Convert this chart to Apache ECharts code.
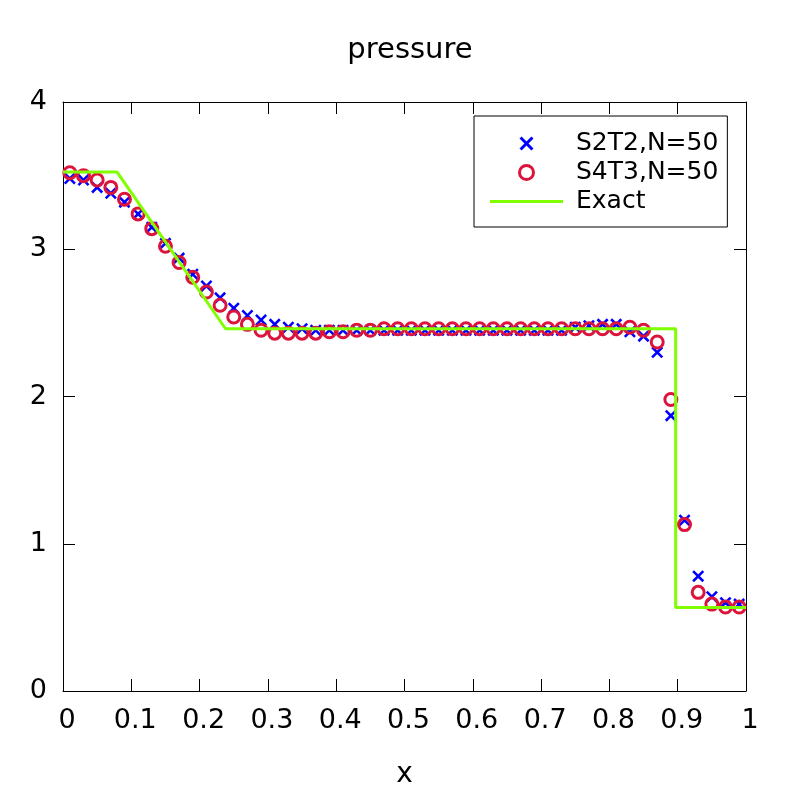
<!DOCTYPE html>
<html>
<head>
<meta charset="utf-8">
<script src="https://cdn.jsdelivr.net/npm/echarts@6/dist/echarts.min.js"></script>
<style>
  html, body { margin: 0; padding: 0; background: #fff; }
  #main { width: 800px; height: 800px; }
</style>
</head>
<body>
<div id="main"></div>
<script>
// cell centres for N=50
let xs = [0.01, 0.03, 0.05, 0.07, 0.09, 0.11, 0.13, 0.15, 0.17, 0.19,
          0.21, 0.23, 0.25, 0.27, 0.29, 0.31, 0.33, 0.35, 0.37, 0.39,
          0.41, 0.43, 0.45, 0.47, 0.49, 0.51, 0.53, 0.55, 0.57, 0.59,
          0.61, 0.63, 0.65, 0.67, 0.69, 0.71, 0.73, 0.75, 0.77, 0.79,
          0.81, 0.83, 0.85, 0.87, 0.89, 0.91, 0.93, 0.95, 0.97, 0.99]

let s2t2 = [3.48, 3.47, 3.42, 3.38, 3.32, 3.24, 3.15, 3.04, 2.94, 2.83,
            2.75, 2.67, 2.60, 2.55, 2.52, 2.49, 2.47, 2.46, 2.45, 2.45,
            2.45, 2.45, 2.45, 2.45, 2.45, 2.45, 2.45, 2.45, 2.45, 2.45,
            2.45, 2.45, 2.45, 2.45, 2.45, 2.45, 2.45, 2.47, 2.48, 2.49,
            2.49, 2.44, 2.41, 2.30, 1.87, 1.16, 0.78, 0.64, 0.60, 0.59]

let s4t3 = [3.52, 3.50, 3.47, 3.42, 3.34, 3.24, 3.14, 3.02, 2.91, 2.81,
            2.71, 2.62, 2.54, 2.49, 2.45, 2.43, 2.43, 2.43, 2.43, 2.44,
            2.44, 2.45, 2.45, 2.46, 2.46, 2.46, 2.46, 2.46, 2.46, 2.46,
            2.46, 2.46, 2.46, 2.46, 2.46, 2.46, 2.46, 2.46, 2.46, 2.46,
            2.46, 2.47, 2.45, 2.37, 1.98, 1.13, 0.67, 0.59, 0.57, 0.57]

let exactX = [0, 0.079, 0.238, 0.897, 0.897, 1]
let exactY = [3.525, 3.525, 2.46, 2.46, 0.567, 0.567]

let xTicks = ['0', '0.1', '0.2', '0.3', '0.4', '0.5', '0.6', '0.7', '0.8', '0.9', '1']

const FONT = 'DejaVu Sans'
const BLUE = '#0000ff'
const RED = '#dc143c'
const GREEN = '#80ff00'
const CROSS = 'path://M0,1.5L1.5,0L10,8.5L8.5,10Z M8.5,0L10,1.5L1.5,10L0,8.5Z'
const BAR = 'path://M0,0L73,0L73,3L0,3Z'

function pairs(a, b) {
  return a.map((v, i) => [v, b[i]])
}

let baseAxis = {
  axisLine: { show: true, onZero: false, lineStyle: { color: '#000', width: 1 } },
  axisTick: { show: true, inside: true, length: 12, lineStyle: { color: '#000', width: 1 } },
  splitLine: { show: false }
}

let options = {
  animation: false,
  backgroundColor: '#fff',
  title: {
    text: 'pressure',
    left: 405,
    textAlign: 'center',
    top: 31,
    textStyle: { fontFamily: FONT, fontSize: 29, fontWeight: 'normal', color: '#000' }
  },
  grid: { left: 63, right: 54, top: 102, bottom: 109 },
  legend: {
    orient: 'vertical',
    left: 474,
    top: 116,
    padding: [15, 9, 13, 16],
    borderColor: '#000',
    borderWidth: 1,
    itemWidth: 73,
    itemHeight: 14,
    itemGap: 4,
    selectedMode: false,
    textStyle: { fontFamily: FONT, fontSize: 25, color: '#000', padding: [0, 0, 0, 8] },
    data: [
      { name: 'S2T2,N=50', itemStyle: { color: BLUE, borderWidth: 0, opacity: 1 } },
      { name: 'S4T3,N=50', itemStyle: { color: 'rgba(0,0,0,0)', borderColor: RED, borderWidth: 3, opacity: 1 } },
      { name: 'Exact', icon: BAR, itemStyle: { color: GREEN, borderWidth: 0 } }
    ]
  },
  xAxis: [
    Object.assign({}, baseAxis, {
      type: 'value', min: 0, max: 1, interval: 0.1, position: 'bottom',
      name: 'x', nameLocation: 'middle', nameGap: 70,
      nameTextStyle: { fontFamily: FONT, fontSize: 28, color: '#000' },
      axisLabel: {
        fontFamily: FONT, fontSize: 27, color: '#000', margin: 16,
        padding: [0, 0, 0, 8],
        formatter: (v) => xTicks[Math.round(v * 10)]
      }
    }),
    Object.assign({}, baseAxis, {
      type: 'value', min: 0, max: 1, interval: 0.1, position: 'top',
      axisLabel: { show: false }
    })
  ],
  yAxis: [
    Object.assign({}, baseAxis, {
      type: 'value', min: 0, max: 4, interval: 1, position: 'left',
      axisLabel: { fontFamily: FONT, fontSize: 27, color: '#000', margin: 16 }
    }),
    Object.assign({}, baseAxis, {
      type: 'value', min: 0, max: 4, interval: 1, position: 'right',
      axisLabel: { show: false }
    })
  ],
  series: [
    {
      name: 'S2T2,N=50',
      type: 'scatter',
      symbol: CROSS,
      symbolSize: 12,
      itemStyle: { color: BLUE, opacity: 1 },
      emphasis: { disabled: true },
      data: pairs(xs, s2t2)
    },
    {
      name: 'S4T3,N=50',
      type: 'scatter',
      symbol: 'circle',
      symbolSize: 12,
      itemStyle: { color: 'rgba(0,0,0,0)', borderColor: RED, borderWidth: 3, opacity: 1 },
      emphasis: { disabled: true },
      data: pairs(xs, s4t3)
    },
    {
      name: 'Exact',
      type: 'line',
      symbol: 'none',
      lineStyle: { color: GREEN, width: 3 },
      itemStyle: { color: GREEN },
      emphasis: { disabled: true },
      data: pairs(exactX, exactY)
    }
  ]
}

let myChart = echarts.init(document.getElementById('main'))
myChart.setOption(options)
</script>
</body>
</html>
